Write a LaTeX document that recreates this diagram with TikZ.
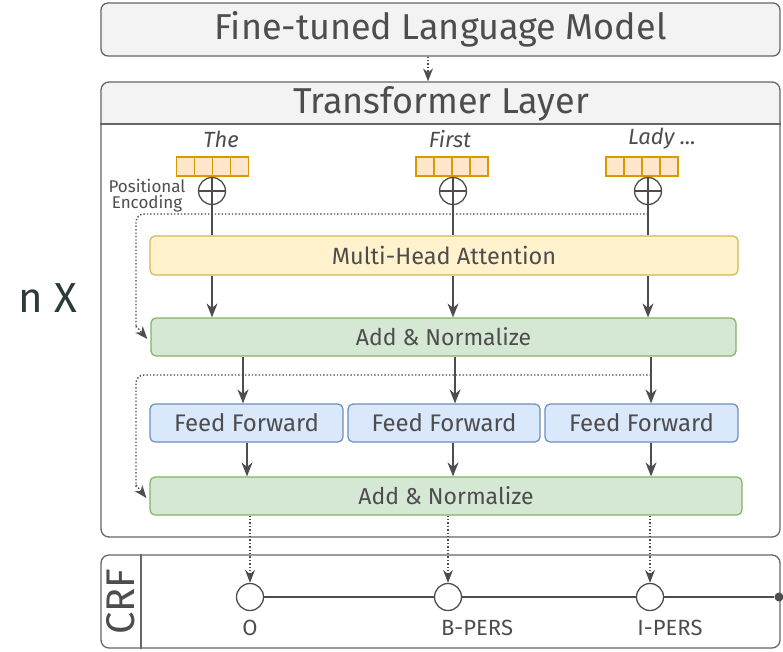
\documentclass[tikz,border=0pt]{standalone}
\usepackage{fontspec}
\setmainfont{Fira Sans}
\usetikzlibrary{arrows.meta,calc}
\definecolor{txt}{HTML}{4D4D4D}
\definecolor{bord}{HTML}{666666}
\definecolor{hdr}{HTML}{F3F3F3}
\definecolor{yfill}{HTML}{FFF2CC}
\definecolor{ydraw}{HTML}{D6B656}
\definecolor{gfill}{HTML}{D5E8D4}
\definecolor{gdraw}{HTML}{82B366}
\definecolor{bfill}{HTML}{DAE8FC}
\definecolor{bdraw}{HTML}{6C8EBF}
\definecolor{efill}{HTML}{FFE6CC}
\definecolor{edraw}{HTML}{D79B00}
\definecolor{nx}{HTML}{2B3A3A}
\newcommand{\fs}[1]{\fontsize{#1}{#1}\selectfont}
\tikzset{
  graybox/.style={draw=bord, fill=hdr, line width=1.3pt, rounded corners=7pt, inner sep=0pt, text=txt},
  ybox/.style={draw=ydraw, fill=yfill, line width=1.2pt, rounded corners=5pt, inner sep=0pt, text=txt, font=\fs{23.5}},
  gbox/.style={draw=gdraw, fill=gfill, line width=1.2pt, rounded corners=5pt, inner sep=0pt, text=txt, font=\fs{23}},
  bbox/.style={draw=bdraw, fill=bfill, line width=1.2pt, rounded corners=5pt, inner sep=0pt, text=txt, font=\fs{24}},
  cell/.style={draw=edraw, fill=efill, line width=1.1pt, minimum width=18pt, minimum height=19pt, inner sep=0pt},
  plus/.style={circle, draw=txt, line width=1.3pt, minimum size=27pt, inner sep=0pt,
    path picture={\draw[txt, line width=1.3pt] (path picture bounding box.north) -- (path picture bounding box.south)
      (path picture bounding box.west) -- (path picture bounding box.east);}},
  crfnode/.style={circle, draw=txt, fill=white, line width=1.3pt, minimum size=27pt, inner sep=0pt},
  arr/.style={draw=txt, line width=1.5pt, -{Stealth[length=14pt,width=11pt]}},
  ln/.style={draw=txt, line width=1.5pt},
  dotarr/.style={draw=txt, line width=1.4pt, dotted, -{Stealth[length=13pt,width=10pt,line width=0pt]}},
  word/.style={text=txt, font=\fs{22}\itshape, inner sep=0pt},
  lbl/.style={text=txt, font=\fs{22}, inner sep=0pt}
}
\begin{document}
\begin{tikzpicture}[x=1pt,y=-1pt]
\useasboundingbox (0,0) rectangle (783,651);
% top box
\node[graybox, minimum width=679pt, minimum height=53pt, font=\fs{36}] (flm) at (440.5,29.5) {Fine-tuned Language Model};
% transformer layer
\begin{scope}
\clip[rounded corners=8pt] (101,82) rectangle (780,537);
\fill[hdr] (101,82) rectangle (780,124);
\end{scope}
\node[draw=bord, line width=1.3pt, rounded corners=8pt, minimum width=679pt, minimum height=455pt, inner sep=0pt] (tl) at (440.5,309.5) {};
\draw[bord, line width=1.3pt] (tl.west |- 0,124) -- (tl.east |- 0,124);
\node[text=txt, font=\fs{36}, inner sep=0pt] (tltitle) at (441,104) {Transformer Layer};
\draw[dotarr] (flm.south -| 428,0) -- (tl.north -| 428,0);
% n X
\node[text=nx, font=\fs{42}, inner sep=0pt] (nX) at (48,298) {n X};
% words
\node[word] (w1) at (221,139) {The};
\node[word] (w2) at (450,139) {First};
\node[word] (w3) at (662,139) {Lady ...};
% embeddings
\foreach \n/\cx in {1/212.5, 2/452, 3/642} {
  \foreach \k in {0,1,2,3} {
    \node[cell] (e\n\k) at (\cx-27+\k*18,166.5) {};
  }
}
% plus circles
\node[plus] (p1) at (212,191) {};
\node[plus] (p2) at (453,191) {};
\node[plus] (p3) at (648,191) {};
\node[text=txt, font=\fs{17}, align=center, inner sep=0pt] (pe) at (147,196) {Positional\\[-1pt]Encoding};
% boxes
\node[ybox, minimum width=588pt, minimum height=39pt] (mha) at (444,255.5) {Multi-Head Attention};
\node[gbox, minimum width=585pt, minimum height=38pt] (an1) at (443.5,337) {Add \& Normalize};
\node[bbox, minimum width=193pt, minimum height=38pt] (ff1) at (246.5,423) {Feed Forward};
\node[bbox, minimum width=192pt, minimum height=38pt] (ff2) at (444,423) {Feed Forward};
\node[bbox, minimum width=193pt, minimum height=38pt] (ff3) at (641.5,423) {Feed Forward};
\node[gbox, minimum width=592pt, minimum height=38pt] (an2) at (446,496) {Add \& Normalize};
% plus to mha
\foreach \i in {1,2,3} {\draw[ln] (p\i.south) -- (p\i.south |- mha.north);}
% mha to an1
\foreach \i in {1,2,3} {\draw[arr] (p\i.south |- mha.south) -- (p\i.south |- an1.north);}
% an1 to ff
\coordinate (a1) at (243,0);
\coordinate (a2) at (455,0);
\coordinate (a3) at (651,0);
\draw[arr] (an1.south -| a1) -- (ff1.north -| a1);
\draw[arr] (an1.south -| a2) -- (ff2.north -| a2);
\draw[arr] (an1.south -| a3) -- (ff3.north -| a3);
% ff to an2
\coordinate (b1) at (247,0);
\coordinate (b2) at (453,0);
\coordinate (b3) at (651,0);
\draw[arr] (ff1.south -| b1) -- (an2.north -| b1);
\draw[arr] (ff2.south -| b2) -- (an2.north -| b2);
\draw[arr] (ff3.south -| b3) -- (an2.north -| b3);
% residual dotted
\coordinate (r1) at (648,214);
\coordinate (r2) at (651,375);
\draw[dotarr, -, rounded corners=8pt] (r1) -| (136,328);
\draw[dotarr] (136,326) -- ($(an1.west)+(-3,2)$);
\draw[dotarr, -, rounded corners=8pt] (r2) -| (136,487);
\draw[dotarr] (136,485) -- ($(an2.west)+(-3,2)$);
% CRF
\node[draw=bord, line width=1.3pt, rounded corners=8pt, minimum width=679pt, minimum height=93pt, inner sep=0pt] (crf) at (440.5,601.5) {};
\draw[bord, line width=1.3pt] (141,0 |- crf.north) -- (141,0 |- crf.south);
\node[text=txt, font=\fs{40}, rotate=90, inner sep=0pt] (crft) at (121,601.5) {CRF};
\node[crfnode] (c1) at (250,597) {};
\node[crfnode] (c2) at (448,597) {};
\node[crfnode] (c3) at (650,597) {};
\node[circle, fill=txt, minimum size=9pt, inner sep=0pt] (cend) at (779,597) {};
\draw[ln] (c1) -- (c2);
\draw[ln] (c2) -- (c3);
\draw[ln] (c3) -- (cend);
\foreach \i in {1,2,3} {\draw[dotarr] (c\i.north |- an2.south) -- (c\i.north);}
\node[lbl] (l1) at (250,628) {O};
\node[lbl] (l2) at (477,628) {B-PERS};
\node[lbl] (l3) at (670,628) {I-PERS};
\end{tikzpicture}
\end{document}
